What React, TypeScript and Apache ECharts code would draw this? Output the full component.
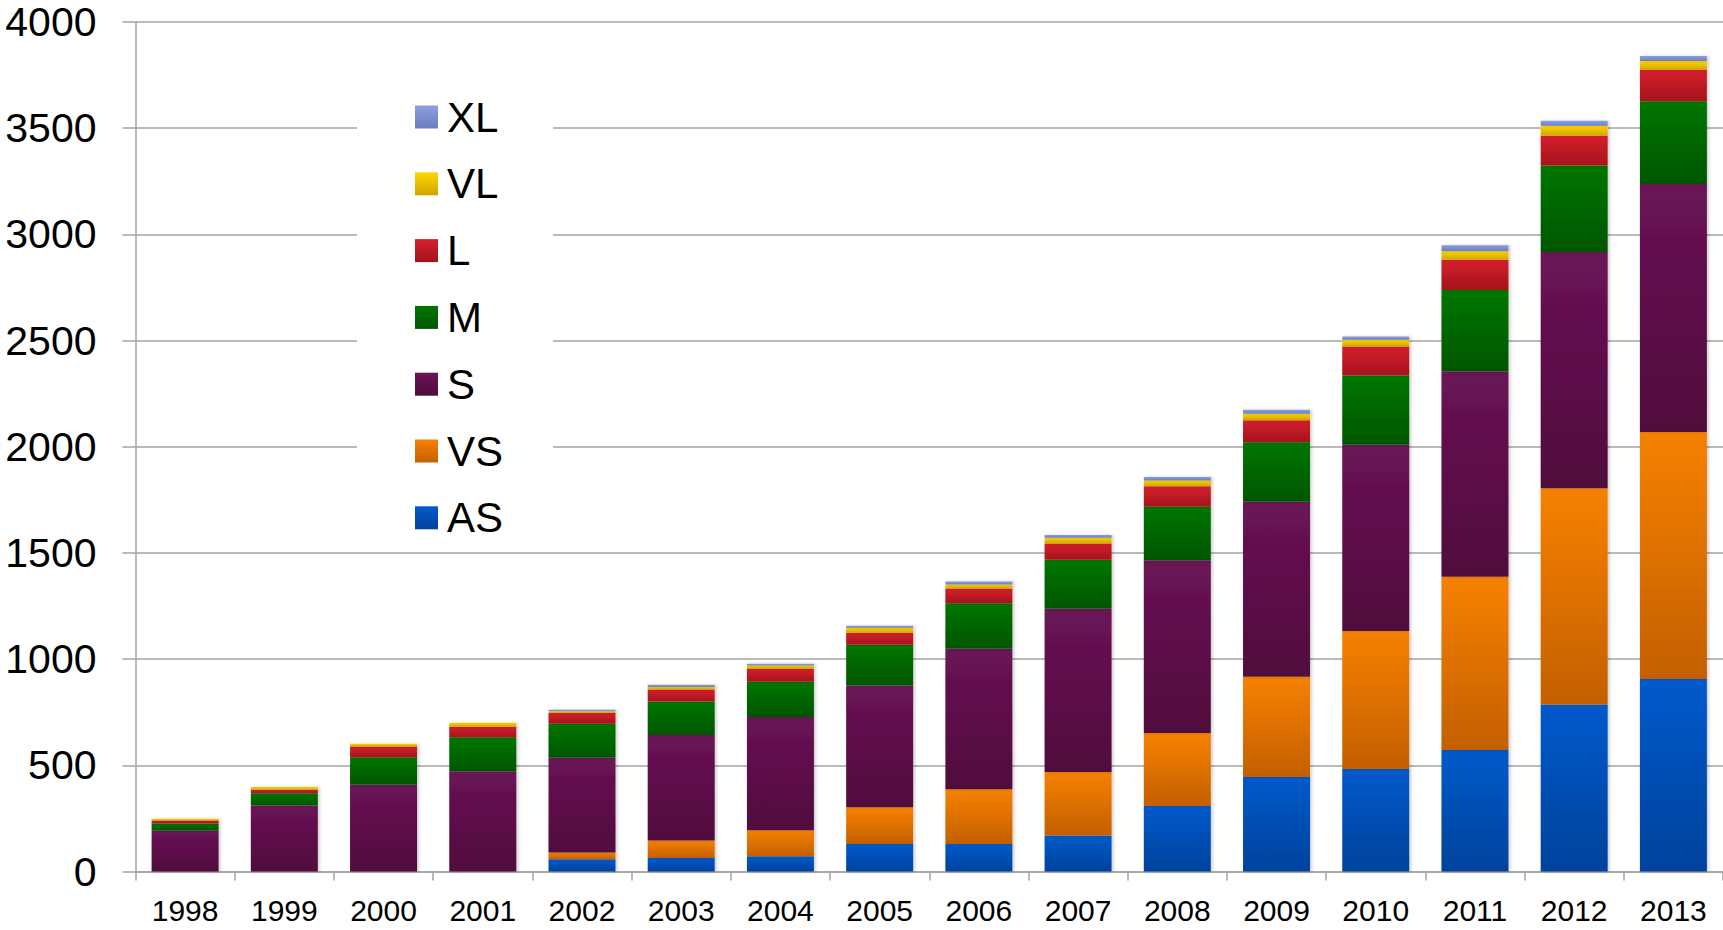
import React, { useEffect, useRef } from "react";
import * as echarts from "echarts";

const years = ["1998", "1999", "2000", "2001", "2002", "2003", "2004", "2005", "2006", "2007", "2008", "2009", "2010", "2011", "2012", "2013"];
const AS = [0, 0, 0, 0, 58, 63, 72, 129, 129, 169, 309, 445, 483, 572, 786, 907];
const VS = [0, 0, 0, 0, 32, 83, 122, 173, 258, 299, 343, 472, 650, 816, 1019, 1162];
const S = [192, 311, 409, 472, 446, 497, 534, 574, 662, 769, 814, 824, 876, 967, 1112, 1168];
const M = [34, 57, 129, 160, 160, 157, 166, 192, 214, 231, 252, 280, 326, 383, 407, 390];
const L = [14, 17, 50, 50, 50, 57, 60, 56, 69, 76, 96, 104, 137, 142, 140, 147];
const VL = [8, 13, 14, 19, 8, 12, 16, 24, 19, 28, 27, 30, 32, 41, 47, 42];
const XL = [0, 0, 0, 0, 8, 10, 8, 9, 14, 13, 17, 19, 15, 28, 24, 24];

const seriesDefs = [
  { name: "AS", data: AS, top: "#035acb", bottom: "#03429c" },
  { name: "VS", data: VS, top: "#f68100", bottom: "#c45f00" },
  { name: "S", data: S, top: "#6a1356", bottom: "#500a3c" },
  { name: "M", data: M, top: "#007600", bottom: "#005600" },
  { name: "L", data: L, top: "#d6202c", bottom: "#a3141c" },
  { name: "VL", data: VL, top: "#ffd600", bottom: "#d0a400" },
  { name: "XL", data: XL, top: "#8c9fde", bottom: "#6c7dbd" },
];
const legendOrder = ["XL", "VL", "L", "M", "S", "VS", "AS"];
const yTicks = { min: 0, max: 4000, interval: 500 };

const FONT = "Liberation Sans, Arial, Helvetica, sans-serif";
const GRID_COLOR = "#a3a3a3";

export default function App() {
  const ref = useRef<HTMLDivElement>(null);
  useEffect(() => {
    if (!ref.current) return;
    const chart = echarts.init(ref.current, undefined, { renderer: "svg" });
    chart.setOption({
      animation: false,
      backgroundColor: "#ffffff",
      grid: { left: 135.5, right: 0, top: 22, bottom: 58.5, containLabel: false, outerBoundsMode: "none" },
      legend: {
        orient: "vertical",
        left: 357,
        top: 76,
        padding: [20, 50, 6, 58],
        backgroundColor: "#ffffff",
        icon: "rect",
        itemWidth: 23,
        itemHeight: 23,
        itemGap: 24.8,
        data: legendOrder,
        textStyle: { fontSize: 42, lineHeight: 35, fontFamily: FONT, color: "#000", padding: [7, 0, 0, 4] },
      },
      xAxis: {
        type: "category",
        data: years,
        boundaryGap: true,
        axisLine: { lineStyle: { color: GRID_COLOR, width: 1.5 } },
        axisTick: { show: true, length: 9, lineStyle: { color: GRID_COLOR, width: 1.5 } },
        axisLabel: { fontSize: 30, fontFamily: FONT, color: "#000", margin: 24 },
      },
      yAxis: {
        type: "value",
        min: yTicks.min,
        max: yTicks.max,
        interval: yTicks.interval,
        axisLine: { show: true, lineStyle: { color: GRID_COLOR, width: 1.5 } },
        axisTick: { show: true, length: 13, lineStyle: { color: GRID_COLOR, width: 1.5 } },
        splitLine: { show: true, lineStyle: { color: GRID_COLOR, width: 1.5 } },
        axisLabel: {
          fontSize: 41,
          fontFamily: FONT,
          color: "#000",
          margin: 39,
          formatter: (v: number) => String(v),
        },
      },
      series: seriesDefs.map((d) => ({
        name: d.name,
        type: "bar",
        stack: "total",
        barWidth: 67,
        data: d.data,
        itemStyle: {
          color: new echarts.graphic.LinearGradient(0, 0, 0, 1, [
            { offset: 0, color: d.top },
            { offset: 1, color: d.bottom },
          ]),
          shadowColor: "rgba(0,0,0,0.18)",
          shadowBlur: 3,
          shadowOffsetX: 2,
          shadowOffsetY: 0,
        },
      })),
    });
    return () => chart.dispose();
  }, []);
  return <div ref={ref} style={{ position: "absolute", left: 0, top: 0, width: 1723, height: 930 }} />;
}
